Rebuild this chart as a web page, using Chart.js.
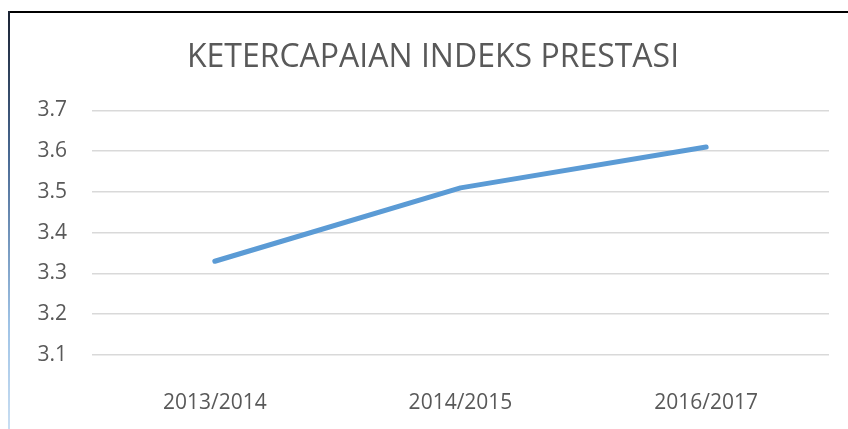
<!DOCTYPE html>
<html>
<head>
<meta charset="utf-8">
<script src="https://cdn.jsdelivr.net/npm/chart.js@4"></script>
<style>
  html, body { margin: 0; padding: 0; background: #fff; }
  #wrap { position: relative; width: 848px; height: 429px; overflow: hidden; }
  #topline { position: absolute; left: 8px; top: 11px; width: 840px; height: 2px; background: #000; }
  #leftline { position: absolute; left: 8px; top: 11px; width: 2px; height: 418px;
    background: linear-gradient(to bottom, #1b2333 0%, #4a6a94 35%, #9fc3e6 75%, #c9def2 100%); }
  canvas { position: absolute; left: 0; top: 0; }
</style>
</head>
<body>
<div id="wrap">
  <canvas id="c" width="848" height="429"></canvas>
  <div id="topline"></div>
  <div id="leftline"></div>
</div>
<script>
const categories = ['2013/2014', '2014/2015', '2016/2017'];
const ipValues = [3.33, 3.51, 3.61];
const yTicks = [3.1, 3.2, 3.3, 3.4, 3.5, 3.6, 3.7];
const chartTitle = 'KETERCAPAIAN INDEKS PRESTASI';

new Chart(document.getElementById('c'), {
  type: 'line',
  data: {
    labels: categories,
    datasets: [{
      data: ipValues,
      borderColor: '#5B9BD5',
      borderWidth: 5,
      borderCapStyle: 'round',
      borderJoinStyle: 'round',
      pointRadius: 0,
      tension: 0,
      fill: false
    }]
  },
  options: {
    responsive: false,
    animation: false,
    devicePixelRatio: 1,
    layout: { padding: { left: 37, right: 19, top: 0, bottom: 0 } },
    plugins: {
      legend: { display: false },
      tooltip: { enabled: false },
      title: {
        display: true,
        text: chartTitle,
        color: '#595959',
        font: { family: 'Open Sans', size: 32, weight: '400' },
        padding: { top: 39, bottom: 33 }
      }
    },
    scales: {
      x: {
        offset: true,
        grid: { display: false },
        border: { display: false },
        ticks: {
          color: '#595959',
          font: { family: 'Open Sans', size: 21 },
          padding: 27,
          maxRotation: 0
        },
        afterFit: s => { s.height = 74; }
      },
      y: {
        min: 3.1,
        max: 3.7,
        afterBuildTicks: s => { s.ticks = yTicks.map(v => ({ value: v })); },
        grid: { color: '#d9d9d9', lineWidth: 1.5, drawTicks: false },
        border: { display: false },
        ticks: {
          color: '#595959',
          font: { family: 'Open Sans', size: 21 },
          padding: 25,
          callback: v => v.toFixed(1)
        },
        afterFit: s => { s.width = 55; }
      }
    }
  }
});
</script>
</body>
</html>
